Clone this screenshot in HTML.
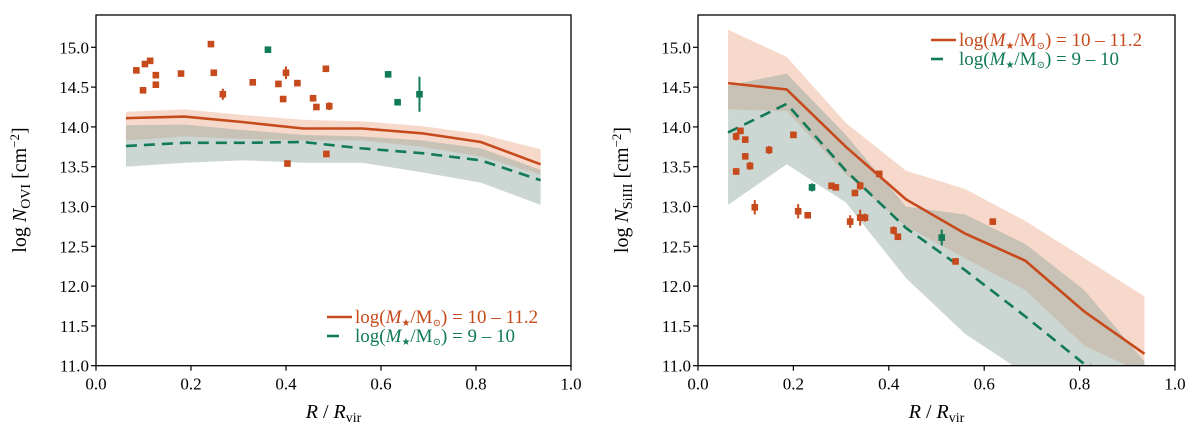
<!DOCTYPE html>
<html><head><meta charset="utf-8"><style>
body{margin:0;background:#fff;width:1200px;height:442px;overflow:hidden}
svg, svg text{font-family:"Liberation Serif","DejaVu Serif",serif}
</style></head><body>
<svg id="fig" width="1200" height="442" xmlns="http://www.w3.org/2000/svg" font-family="Liberation Serif, DejaVu Serif, serif"></svg>
<script>
// ---- data ----
const gridX = [0.063,0.186,0.31,0.436,0.56,0.686,0.81,0.936];
const yTicks = [11.0,11.5,12.0,12.5,13.0,13.5,14.0,14.5,15.0];
const xTicks = [0.0,0.2,0.4,0.6,0.8,1.0];
// OVI panel
const oviHighLine = [14.11,14.13,14.06,13.98,13.98,13.92,13.81,13.53];
const oviHighUp   = [14.19,14.22,14.15,14.09,14.07,14.01,13.91,13.72];
const oviHighLo   = [13.83,13.88,13.85,13.83,13.83,13.75,13.63,13.40];
const oviLowLine  = [13.76,13.80,13.80,13.81,13.73,13.67,13.58,13.33];
const oviLowUp    = [14.02,14.03,13.96,13.90,13.88,13.83,13.73,13.46];
const oviLowLo    = [13.50,13.55,13.58,13.55,13.55,13.43,13.30,13.02];
const oviHighPtsX = [0.085,0.099,0.103,0.114,0.126,0.126,0.179,0.242,0.248,0.267,0.33,0.384,0.394,0.4,0.403,0.424,0.457,0.464,0.484,0.485,0.491];
const oviHighPtsY = [14.71,14.46,14.79,14.83,14.65,14.53,14.67,15.04,14.68,14.41,14.56,14.54,14.35,14.68,13.54,14.55,14.36,14.25,14.73,13.66,14.26];
const oviHighPtsE = [0.03,0.03,0.03,0.03,0.04,0.04,0.03,0.03,0.03,0.07,0.04,0.04,0.03,0.08,0.04,0.03,0.04,0.04,0.03,0.04,0.05];
const oviLowPtsX = [0.362,0.615,0.635,0.681];
const oviLowPtsY = [14.97,14.66,14.31,14.41];
const oviLowPtsE = [0.02,0.03,0.03,0.22];
// SiIII panel
const siHighLine = [14.55,14.47,13.75,13.09,12.66,12.32,11.68,11.15];
const siHighUp   = [15.22,14.88,14.05,13.45,13.22,12.82,12.35,11.87];
const siHighLo   = [14.22,14.20,13.40,12.75,12.35,11.95,11.25,10.90];
const siLowLine  = [13.93,14.29,13.45,12.73,12.20,11.62,11.02,10.80];
const siLowUp    = [14.52,14.67,13.90,13.00,12.90,12.53,11.95,11.05];
const siLowLo    = [13.02,13.53,13.05,12.10,11.40,10.90,10.60,10.50];
const siHighPtsX = [0.08,0.08,0.089,0.099,0.099,0.109,0.119,0.149,0.2,0.21,0.23,0.28,0.289,0.319,0.329,0.34,0.34,0.35,0.38,0.41,0.419,0.54,0.618];
const siHighPtsY = [13.88,13.44,13.95,13.84,13.63,13.51,12.99,13.71,13.90,12.94,12.89,13.26,13.24,12.81,13.17,13.26,12.86,12.86,13.41,12.70,12.62,12.31,12.81];
const siHighPtsE = [0.05,0.04,0.04,0.04,0.04,0.05,0.09,0.05,0.04,0.09,0.04,0.03,0.04,0.08,0.04,0.05,0.1,0.05,0.03,0.05,0.04,0.04,0.04];
const siLowPtsX = [0.239,0.511];
const siLowPtsY = [13.24,12.61];
const siLowPtsE = [0.05,0.1];

const ORANGE="#c64a1c", GREEN="#117a57";
const FF='Liberation Serif, DejaVu Serif, serif';
const svg=document.getElementById('fig');
const NS="http://www.w3.org/2000/svg";
function mk(tag,attrs,parent){const e=document.createElementNS(NS,tag);for(const k in attrs)e.setAttribute(k,attrs[k]);if(tag==='text')e.setAttribute('font-family',FF);(parent||svg).appendChild(e);return e;}

function panel(cfg){
  const x0=cfg.x0,x1=cfg.x1,yTop=15,yBot=365.7;
  const sx=v=>x0+(x1-x0)*v;
  const sy=v=>47.3+(15-v)*(365.7-47.3)/4;
  const g=mk('g',{});
  
  
  const cid='clip'+cfg.name;
  const cp=mk('clipPath',{id:cid},g);mk('rect',{x:x0,y:yTop,width:x1-x0,height:yBot-yTop},cp);
  const pg=mk('g',{'clip-path':'url(#'+cid+')'},g);
  function band(up,lo,fill,op,name){
    let d='';gridX.forEach((x,i)=>{d+=(i?'L':'M')+sx(x)+','+sy(up[i]);});
    for(let i=gridX.length-1;i>=0;i--)d+='L'+sx(gridX[i])+','+sy(lo[i]);
    const p=mk('path',{d:d+'Z',fill:fill,'fill-opacity':op,stroke:'none'},pg);
    
    
  }
  band(cfg.hU,cfg.hL,'#e8936b',0.35,'band-high-mass');
  band(cfg.lU,cfg.lL,'#8fa59c',0.45,'band-low-mass');
  function line(ys,col,dash,name){
    const pts=gridX.map((x,i)=>sx(x)+','+sy(ys[i])).join(' ');
    const l=mk('polyline',{points:pts,fill:'none',stroke:col,'stroke-width':2.6,'stroke-dasharray':dash||'none'},pg);
    
    
  }
  line(cfg.hLine,ORANGE,null,'line-high-mass');
  line(cfg.lLine,GREEN,'11,7','line-low-mass');
  function pts(X,Y,E,col,name){
    X.forEach((x,i)=>{
      const cx=sx(x),cy=sy(Y[i]);
      const gg=mk('g',{},pg);
      
      
      mk('line',{x1:cx,x2:cx,y1:sy(Y[i]+E[i]),y2:sy(Y[i]-E[i]),stroke:col,'stroke-width':2},gg);
      mk('rect',{x:cx-3.3,y:cy-3.3,width:6.6,height:6.6,fill:col},gg);
    });
  }
  pts(cfg.hX,cfg.hY,cfg.hE,ORANGE,'data-point-high-mass');
  pts(cfg.lX,cfg.lY,cfg.lE,GREEN,'data-point-low-mass');
  const fr=mk('rect',{x:x0,y:yTop,width:x1-x0,height:yBot-yTop,fill:'none',stroke:'#000','stroke-width':1.3},g);
  
  
  yTicks.forEach(v=>{
    mk('line',{x1:x0-5,x2:x0,y1:sy(v),y2:sy(v),stroke:'#000','stroke-width':1.2},g);
    const t=mk('text',{x:x0-7,y:sy(v)+6,'text-anchor':'end','font-size':17},g);
    t.textContent=v.toFixed(1);
    
    
  });
  xTicks.forEach(v=>{
    mk('line',{x1:sx(v),x2:sx(v),y1:yBot,y2:yBot+5,stroke:'#000','stroke-width':1.2},g);
    const t=mk('text',{x:sx(v),y:yBot+24,'text-anchor':'middle','font-size':17},g);
    t.textContent=v.toFixed(1);
    
    
  });
  const xt=mk('text',{x:(x0+x1)/2,y:418,'text-anchor':'middle','font-size':20},g);
  xt.innerHTML='<tspan font-style="italic">R</tspan> / <tspan font-style="italic">R</tspan><tspan font-size="14" dy="4">vir</tspan>';
  
  
  const yt=mk('text',{transform:'translate('+(x0-70)+',190) rotate(-90)','text-anchor':'middle','font-size':20},g);
  yt.innerHTML='log <tspan font-style="italic">N</tspan><tspan font-size="14" dy="4">'+cfg.ion+'</tspan><tspan dy="-4"> [cm</tspan><tspan font-size="13" dy="-7">−2</tspan><tspan dy="7">]</tspan>';
  
  
  // legend
  const lg=mk('g',{},g);
  
  
  const L=cfg.leg;
  [[ORANGE,null,'10 – 11.2',0],[GREEN,'10,6','  9 – 10',19]].forEach(([c,d,txt,dy])=>{
    const e=mk('g',{},lg);
    
    
    mk('line',{x1:L.x,x2:L.x+(d?12:25),y1:L.y+dy,y2:L.y+dy,stroke:c,'stroke-width':2.6},e);
    const t=mk('text',{x:L.x+28,y:L.y+dy+6,fill:c,'font-size':19},e);
    t.innerHTML='log(<tspan font-style="italic">M</tspan><tspan font-size="10" dy="3">★</tspan><tspan dy="-3">/M</tspan><tspan font-size="10" dy="3">⊙</tspan><tspan dy="-3">) = '+txt+'</tspan>';
  });
}
panel({name:'ovi-panel',ion:'OVI',x0:96,x1:571,hLine:oviHighLine,hU:oviHighUp,hL:oviHighLo,lLine:oviLowLine,lU:oviLowUp,lL:oviLowLo,
  hX:oviHighPtsX,hY:oviHighPtsY,hE:oviHighPtsE,lX:oviLowPtsX,lY:oviLowPtsY,lE:oviLowPtsE,leg:{x:327,y:317}});
panel({name:'siiii-panel',ion:'SiIII',x0:698,x1:1175,hLine:siHighLine,hU:siHighUp,hL:siHighLo,lLine:siLowLine,lU:siLowUp,lL:siLowLo,
  hX:siHighPtsX,hY:siHighPtsY,hE:siHighPtsE,lX:siLowPtsX,lY:siLowPtsY,lE:siLowPtsE,leg:{x:931,y:40}});
</script>
</body></html>
